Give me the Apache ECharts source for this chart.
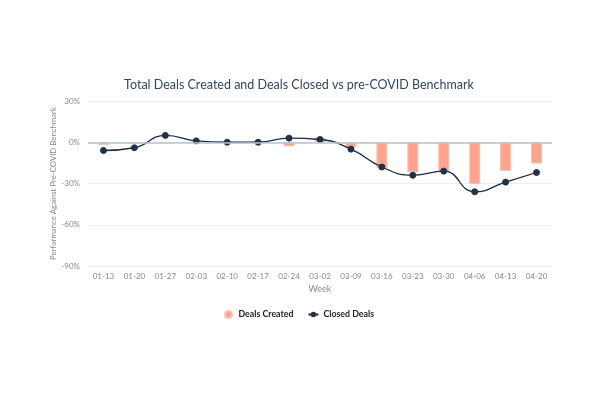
<!DOCTYPE html>
<html><head><meta charset="utf-8">
<script src="https://cdn.jsdelivr.net/npm/echarts@6/dist/echarts.min.js"></script>
<style>html,body{margin:0;padding:0;background:#fff}#c{width:598px;height:398px}</style>
</head><body><div id="c"></div>
<script>
const weeks = ['01-13','01-20','01-27','02-03','02-10','02-17','02-24','03-02','03-09','03-16','03-23','03-30','04-06','04-13','04-20'];
const dealsCreated = [-2, -1, -0.5, 0, 0, 1, -3, 3.5, -4, -19, -22, -21.5, -30.5, -21, -15.5];
const closedDeals = [-6, -4, 5, 1, 0, 0, 3, 2, -5, -18, -24, -21, -36, -29, -22];
const yTicks = [-90, -60, -30, 0, 30];

const chart = echarts.init(document.getElementById('c'));
chart.setOption({
  animation: false,
  textStyle: { fontFamily: 'Lato' },
  title: {
    text: 'Total Deals Created and Deals Closed vs pre-COVID Benchmark',
    left: 'center', top: 73,
    textStyle: { fontSize: 12.5, fontWeight: 'normal', color: '#33475b', fontFamily: 'Lato' }
  },
  legend: {
    top: 305, left: 'center', itemGap: 14, itemWidth: 10, itemHeight: 7,
    textStyle: { fontSize: 8.8, fontWeight: 'bold', color: '#222', fontFamily: 'Lato' },
    data: [{ name: 'Deals Created', icon: 'circle' }, { name: 'Closed Deals' }]
  },
  grid: { left: 88, right: 46, top: 101, bottom: 132 },
  xAxis: {
    type: 'category', data: weeks,
    name: 'Week', nameLocation: 'middle', nameGap: 19,
    nameTextStyle: { fontSize: 9, color: '#888' },
    axisLine: { show: false }, axisTick: { show: false },
    axisLabel: { fontSize: 8, color: '#888', margin: 6 }
  },
  yAxis: {
    type: 'value', min: yTicks[0], max: yTicks[yTicks.length - 1], interval: 30,
    name: 'Performance Against Pre-COVID Benchmark', nameLocation: 'middle', nameGap: 31,
    nameMoveOverlap: false,
    nameTextStyle: { fontSize: 7.8, color: '#888' },
    axisLine: { show: false }, axisTick: { show: false },
    axisLabel: { fontSize: 8, color: '#888', formatter: v => v + '%' },
    splitLine: { lineStyle: { color: '#ebedf0', width: 1 } }
  },
  series: [
    {
      name: 'Deals Created', type: 'bar', data: dealsCreated, barWidth: 11,
      itemStyle: { color: '#ffa38e', borderColor: '#ffc2b3', borderWidth: 1 },
      markLine: {
        silent: true, symbol: 'none', label: { show: false },
        lineStyle: { color: '#b9c4d2', type: 'solid', width: 1.5 },
        data: [{ yAxis: 0 }]
      },
      z: 2
    },
    {
      name: 'Closed Deals', type: 'line', data: closedDeals, smooth: true,
      symbol: 'circle', symbolSize: 6,
      lineStyle: { color: '#1c2b40', width: 1.3 },
      itemStyle: { color: '#213147', borderColor: '#213147' },
      z: 3
    }
  ]
});
</script></body></html>
